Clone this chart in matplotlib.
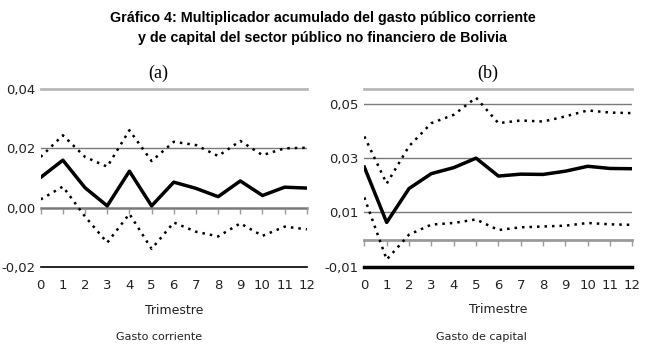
import matplotlib
matplotlib.use("Agg")
import matplotlib.pyplot as plt

# trimestres
quarters = list(range(13))

# (a) gasto corriente
a_mid = [0.0102, 0.0160, 0.0067, 0.0006, 0.0123, 0.0006, 0.0086, 0.0065,
         0.0037, 0.0090, 0.0041, 0.0069, 0.0066]
a_up = [0.0171, 0.0244, 0.0171, 0.0138, 0.0261, 0.0157, 0.0222, 0.0211,
        0.0174, 0.0225, 0.0177, 0.0200, 0.0202]
a_low = [0.0028, 0.0071, -0.0030, -0.0118, -0.0021, -0.0139, -0.0050, -0.0081,
         -0.0097, -0.0053, -0.0095, -0.0064, -0.0073]

# (b) gasto de capital
b_mid = [0.0267, 0.0063, 0.0188, 0.0243, 0.0265, 0.0300, 0.0234, 0.0241,
         0.0240, 0.0252, 0.0270, 0.0262, 0.0261]
b_up = [0.0380, 0.0206, 0.0344, 0.0429, 0.0460, 0.0523, 0.0429, 0.0439,
        0.0435, 0.0454, 0.0476, 0.0468, 0.0466]
b_low = [0.0155, -0.0074, 0.0018, 0.0055, 0.0061, 0.0074, 0.0035, 0.0045,
         0.0048, 0.0051, 0.0061, 0.0056, 0.0054]

a_yticks = [-0.02, 0.00, 0.02, 0.04]
a_ylabels = ["-0,02", "0,00", "0,02", "0,04"]
b_yticks = [-0.01, 0.01, 0.03, 0.05]
b_ylabels = ["-0,01", "0,01", "0,03", "0,05"]

fig = plt.figure(figsize=(6.46, 3.49), dpi=100)
fig.text(0.5, 0.948, "Gráfico 4: Multiplicador acumulado del gasto público corriente",
         ha="center", va="center", fontsize=10.3, fontweight="bold", family="Liberation Sans")
fig.text(0.5, 0.891, "y de capital del sector público no financiero de Bolivia",
         ha="center", va="center", fontsize=10.3, fontweight="bold", family="Liberation Sans")

ax_a = fig.add_axes([0.063, 0.235, 0.412, 0.51])
ax_b = fig.add_axes([0.564, 0.236, 0.415, 0.509])

panels = [
    (ax_a, a_mid, a_up, a_low, a_yticks, a_ylabels, (-0.02, 0.04), "(a)", "Gasto corriente", 1.2, -0.06, 0.246),
    (ax_b, b_mid, b_up, b_low, b_yticks, b_ylabels, (-0.01, 0.0555), "(b)", "Gasto de capital", 2.5, -0.04, 0.746),
]

for ax, mid, up, low, yt, yl, ylim, tag, sub, bot_lw, tag_dx, sub_x in panels:
    for s in ["left", "right"]:
        ax.spines[s].set_visible(False)
    ax.spines["top"].set_color("#b8b8b8")
    ax.spines["top"].set_linewidth(2)
    ax.spines["bottom"].set_color("black")
    ax.spines["bottom"].set_linewidth(bot_lw)

    for y in yt:
        if ylim[0] < y < ylim[1]:
            ax.axhline(y, color="#7a7a7a", lw=1, zorder=1)

    # eje en cero con marcas
    zero = ax.secondary_xaxis(0, transform=ax.transData)
    zero.set_xticks(quarters)
    zero.set_xticklabels([])
    zero.tick_params(direction="out", length=4, width=1, color="#9a9a9a")
    zero.spines["bottom"].set_color("#9a9a9a")
    zero.spines["bottom"].set_linewidth(2)

    ax.plot(quarters, up, color="black", lw=1.8, ls=(0, (1, 2)), zorder=3)
    ax.plot(quarters, low, color="black", lw=1.8, ls=(0, (1, 2)), zorder=3)
    ax.plot(quarters, mid, color="black", lw=2.5, zorder=4)

    ax.set_xlim(0, 12)
    ax.set_ylim(*ylim)
    ax.set_yticks(yt)
    ax.set_yticklabels(yl)
    ax.set_xticks(quarters)
    ax.set_xticklabels([str(q) for q in quarters])
    ax.tick_params(axis="y", length=0, pad=4, labelsize=9.5, labelcolor="#222222")
    ax.tick_params(axis="x", length=0, pad=9, labelsize=9.5, labelcolor="#222222")
    ax.set_xlabel("Trimestre", fontsize=9, labelpad=8, color="#222222")
    ax.text(0.5 + tag_dx, 1.09, tag, transform=ax.transAxes, ha="center", va="center",
            fontsize=13, family="Liberation Serif")
    fig.text(sub_x, 0.034, sub, ha="center", va="center", fontsize=8, color="#222222")

fig.savefig("out.png", dpi=100)
